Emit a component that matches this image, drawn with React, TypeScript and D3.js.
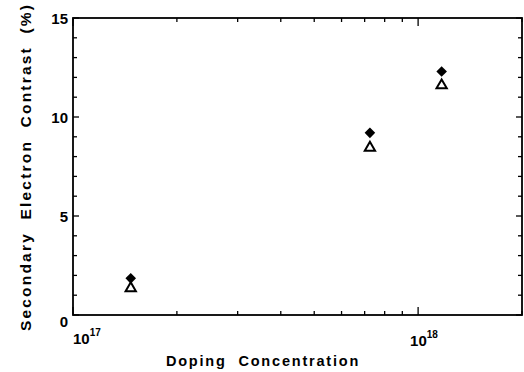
import React from 'react';
import * as d3 from 'd3';

// doping concentration (cm^-3) and contrast (%)
const doping = [1.47e17, 7.25e17, 1.17e18];
const filledDiamond = [1.85, 9.2, 12.3];
const openTriangle = [1.4, 8.5, 11.65];

const yTicks = [0, 5, 10, 15];
const xMajor = [1e17, 1e18];
const xMajorExp = ['17', '18'];
const xMinor = [2e17, 3e17, 4e17, 5e17, 6e17, 7e17, 8e17, 9e17, 2e18];

const W = 524;
const H = 372;
const margin = { top: 18, right: 2, bottom: 57, left: 73 };

const App = () => {
  const x = d3.scaleLog().domain([1e17, 2e18]).range([margin.left, W - margin.right]);
  const y = d3.scaleLinear().domain([0, 15]).range([H - margin.bottom, margin.top]);
  const x0 = margin.left, x1 = W - margin.right;
  const y0 = H - margin.bottom, y1 = margin.top;
  const font = '"Liberation Sans", Arial, sans-serif';

  // square turned 45 degrees, wider than d3's thin diamond
  const diamond = d3.symbol().type(d3.symbolSquare).size(56)();
  const triangle = d3.symbol().type(d3.symbolTriangle).size(46)();

  const yMinor = d3.range(0, 15.01, 1);

  return (
    <svg width={W} height={H} style={{ position: 'absolute', left: 0, top: 0 }} fontFamily={font}>
      <rect width={W} height={H} fill="#fff" />
      {/* frame */}
      <rect x={x0} y={y1} width={x1 - x0} height={y0 - y1} fill="none" stroke="#000" strokeWidth={1.8} />

      {/* y ticks, inward on both sides */}
      {yMinor.map(v => {
        const len = v % 5 === 0 ? 6 : 4;
        return (
          <g key={'yt' + v} stroke="#000" strokeWidth={1.3}>
            <line x1={x0} x2={x0 + len} y1={y(v)} y2={y(v)} />
            <line x1={x1} x2={x1 - len} y1={y(v)} y2={y(v)} />
          </g>
        );
      })}
      {yTicks.map(v => (
        <text key={'yl' + v} x={x0 - 5} y={y(v) + (v === 0 ? 12 : 6)} textAnchor="end"
          fontSize={15} fontWeight="bold">{v}</text>
      ))}

      {/* x ticks, inward on top and bottom */}
      {xMinor.map(v => (
        <g key={'xm' + v} stroke="#000" strokeWidth={1.3}>
          <line x1={x(v)} x2={x(v)} y1={y0} y2={y0 - 4} />
          <line x1={x(v)} x2={x(v)} y1={y1} y2={y1 + 4} />
        </g>
      ))}
      {xMajor.map(v => (
        <g key={'xM' + v} stroke="#000" strokeWidth={1.3}>
          <line x1={x(v)} x2={x(v)} y1={y0} y2={y0 - 8} />
          <line x1={x(v)} x2={x(v)} y1={y1} y2={y1 + 8} />
        </g>
      ))}
      {xMajor.map((v, i) => (
        <text key={'xl' + v} x={x(v) + (i === 0 ? 0 : -8)} y={H - 28 + i * 2} textAnchor="start"
          fontSize={15} fontWeight="bold">
          10<tspan dy={-8} fontSize={10}>{xMajorExp[i]}</tspan>
        </text>
      ))}

      {/* data */}
      {doping.map((d, i) => (
        <path key={'d' + i} d={diamond}
          transform={`translate(${x(d)},${y(filledDiamond[i])}) rotate(45)`} fill="#000" />
      ))}
      {doping.map((d, i) => (
        <path key={'t' + i} d={triangle} transform={`translate(${x(d)},${y(openTriangle[i]) + 1})`}
          fill="#fff" stroke="#000" strokeWidth={2} />
      ))}

      {/* axis titles */}
      <text x={263} y={H - 6} textAnchor="middle" fontSize={14.5} fontWeight="bold" letterSpacing={1.8}
        wordSpacing={6}>Doping Concentration</text>
      <text transform={`translate(31,167) rotate(-90)`} textAnchor="middle"
        fontSize={15.5} fontWeight="bold" letterSpacing={2.2} wordSpacing={6}>
        Secondary Electron Contrast (%)
      </text>
    </svg>
  );
};

export default App;
